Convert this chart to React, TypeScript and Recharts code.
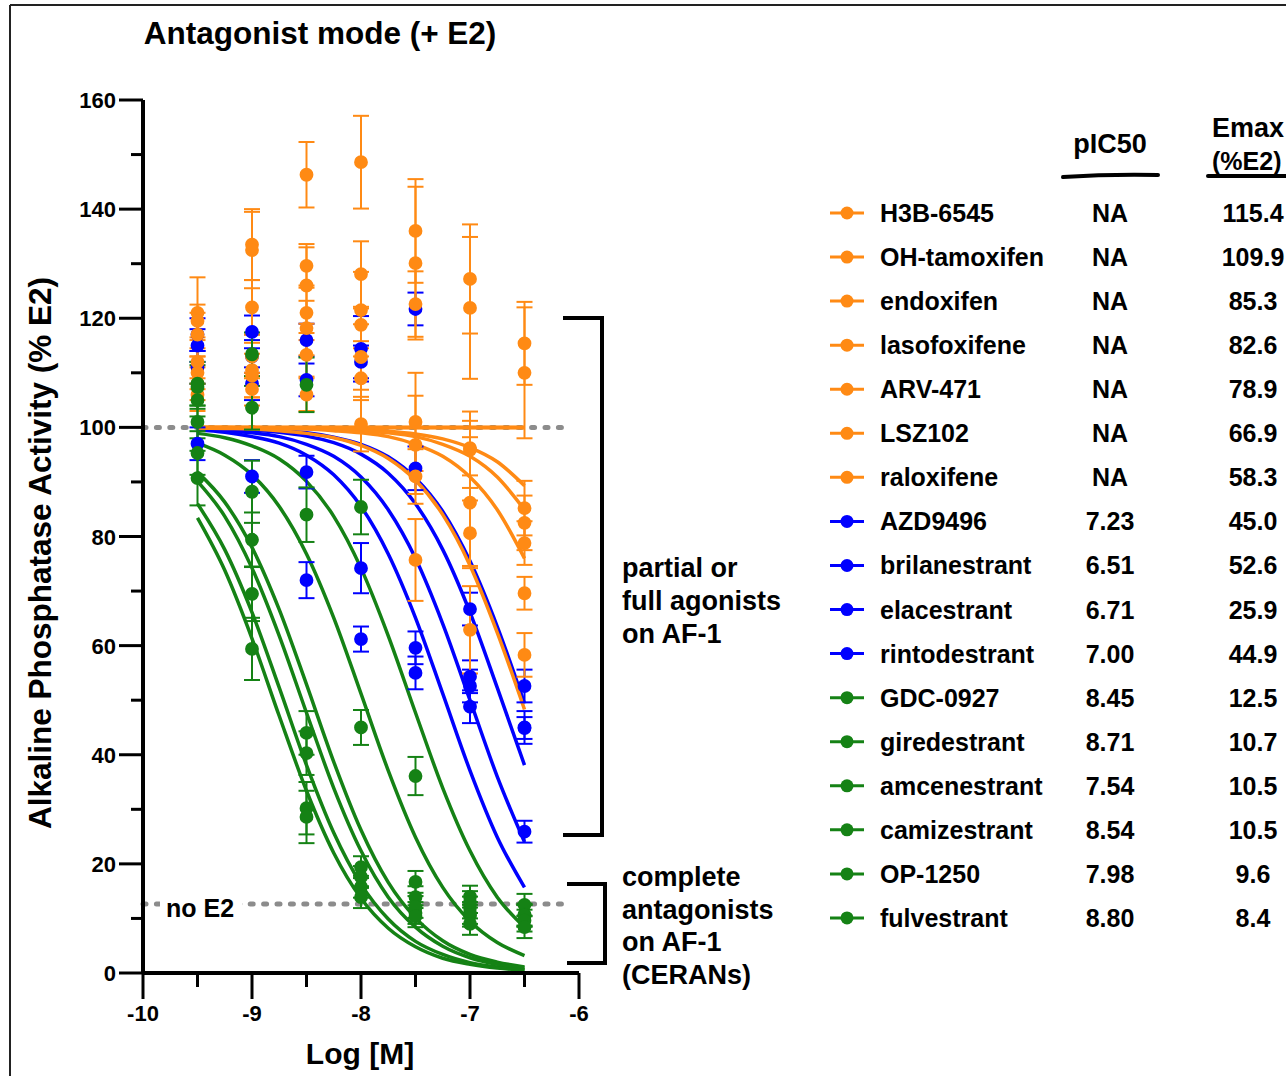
import React from 'react';
import { ComposedChart, Line, Scatter, ErrorBar, XAxis, YAxis, ZAxis, ReferenceLine } from 'recharts';

const FONT = '"Liberation Sans", Arial, Helvetica, sans-serif';
const ORANGE = '#ff8a14';
const BLUE = '#0000ff';
const GREEN = '#158215';

// concentrations (log M) of the measured points and of the fitted curves
const doses = [-9.5, -9, -8.5, -8, -7.5, -7, -6.5];
const fitX = [-9.5, -9.25, -9, -8.75, -8.5, -8.25, -8, -7.75, -7.5, -7.25, -7, -6.75, -6.5];
const xTicks = [-10, -9.5, -9, -8.5, -8, -7.5, -7, -6.5, -6];
const yTicks = [0, 10, 20, 30, 40, 50, 60, 70, 80, 90, 100, 110, 120, 130, 140, 150, 160];

const names = [
  'H3B-6545', 'OH-tamoxifen', 'endoxifen', 'lasofoxifene', 'ARV-471', 'LSZ102', 'raloxifene',
  'AZD9496', 'brilanestrant', 'elacestrant', 'rintodestrant',
  'GDC-0927', 'giredestrant', 'amcenestrant', 'camizestrant', 'OP-1250', 'fulvestrant',
];
const pic50 = ['NA', 'NA', 'NA', 'NA', 'NA', 'NA', 'NA', '7.23', '6.51', '6.71', '7.00', '8.45', '8.71', '7.54', '8.54', '7.98', '8.80'];
const emax = ['115.4', '109.9', '85.3', '82.6', '78.9', '66.9', '58.3', '45.0', '52.6', '25.9', '44.9', '12.5', '10.7', '10.5', '10.5', '9.6', '8.4'];
const colors = [
  ORANGE, ORANGE, ORANGE, ORANGE, ORANGE, ORANGE, ORANGE,
  BLUE, BLUE, BLUE, BLUE,
  GREEN, GREEN, GREEN, GREEN, GREEN, GREEN,
];

// mean % E2 activity at each dose
const h3bMean = [121, 133.5, 146.3, 148.6, 136, 127.2, 115.4];
const ohtMean = [119.5, 132.5, 129.6, 128.1, 130.1, 121.9, 110];
const endoxMean = [117, 122, 126, 121.5, 122.6, 96.2, 85.2];
const lasoMean = [112, 110.5, 121, 118.8, 101, 95.9, 82.5];
const arvMean = [110, 109.5, 118.2, 112.9, 96.8, 86.2, 78.8];
const lszMean = [108, 113, 113.3, 109, 91, 80.6, 69.6];
const raloxMean = [106, 107, 106, 100.6, 75.7, 62.9, 58.3];
const azdMean = [97, 91, 72, 61.2, 55, 48.8, 45];
const brilMean = [115, 113, 116, 114.4, 121.7, 66.7, 52.6];
const elacMean = [117, 117.5, 108.7, 112, 92.5, 52.6, 25.9];
const rintoMean = [111, 108, 91.8, 74.2, 59.6, 54.3, 44.9];
const gdcMean = [105, 88.2, 44, 19.4, 13.9, 12, 12.5];
const giredMean = [95.3, 69.5, 30.2, 15.8, 11, 10.5, 10.7];
const amcenMean = [108, 113.4, 107.8, 85.4, 36.1, 14, 10.5];
const camiMean = [101, 79.4, 40.3, 17.6, 12.1, 11, 10.5];
const opMean = [107.4, 103.6, 84, 45, 16.7, 13, 9.6];
const fulvMean = [90.7, 59.4, 28.6, 13.9, 10.4, 9, 8.4];

// error (± SD)
const h3bErr = [6.5, 6.5, 6, 8.5, 9.5, 10, 7.6];
const ohtErr = [3, 7, 4, 6, 14, 13, 12];
const endoxErr = [4, 5, 7, 7, 6, 5, 5];
const lasoErr = [4, 5, 5, 3, 9, 7, 5];
const arvErr = [3, 4, 5, 6, 9, 12, 4];
const lszErr = [3, 4, 4, 4, 5, 6, 3];
const raloxErr = [3, 3, 3, 5, 7.5, 8, 4];
const azdErr = [3, 3, 3.3, 2.3, 3, 3, 3];
const brilErr = [3, 3, 3, 6, 3, 3, 3];
const elacErr = [3, 3, 3, 3, 4, 3, 2];
const rintoErr = [3, 3, 3, 4.6, 3, 3, 2];
const gdcErr = [3, 5.7, 4, 2, 2, 2, 2];
const giredErr = [4, 5, 4.8, 2, 2, 2, 2];
const amcenErr = [4, 4, 5, 5, 3.5, 2, 2];
const camiErr = [3, 5, 4, 2, 2, 2, 2];
const opErr = [4, 4, 5, 3.2, 2, 2, 2];
const fulvErr = [5, 5.7, 4.8, 2, 2, 2, 2];

// fitted curves read at fitX
const h3bFit = [100, 100, 100, 100, 100, 100, 100, 100, 100, 100, 100, 100, 100];
const ohtFit = [100, 100, 100, 100, 100, 100, 100, 100, 100, 100, 100, 100, 100];
const endoxFit = [100, 100, 100, 99.9, 99.9, 99.8, 99.6, 99.3, 98.8, 97.9, 96.3, 93.7, 89.3];
const lasoFit = [100, 100, 99.9, 99.9, 99.8, 99.7, 99.4, 99.0, 98.3, 96.9, 94.7, 90.9, 84.9];
const arvFit = [100, 99.9, 99.9, 99.8, 99.7, 99.4, 99.0, 98.3, 96.9, 94.7, 90.9, 84.9, 76.0];
const lszFit = [100, 100, 100, 100, 100, 100, 100, 100, 100, 100, 100, 100, 100];
const raloxFit = [99.9, 99.8, 99.7, 99.4, 98.9, 98.1, 96.7, 94.3, 90.3, 84.0, 74.7, 62.4, 48.3];
const azdFit = [99.5, 99.1, 98.3, 97.1, 94.9, 91.3, 85.5, 76.8, 65.1, 51.2, 37.1, 24.9, 15.7];
const brilFit = [99.9, 99.8, 99.7, 99.4, 99.0, 98.2, 96.9, 94.6, 90.7, 84.6, 75.5, 63.5, 49.4];
const elacFit = [99.8, 99.7, 99.5, 99.1, 98.4, 97.2, 95.1, 91.6, 86.0, 77.6, 66.1, 52.3, 38.1];
const rintoFit = [99.7, 99.4, 99.0, 98.3, 96.9, 94.7, 90.9, 84.9, 76.0, 64.0, 50.0, 36.0, 24.0];
const gdcFit = [91.8, 86.3, 78.0, 66.6, 52.9, 38.7, 26.2, 16.6, 10.1, 5.9, 3.4, 2.0, 1.1];
const giredFit = [86.0, 77.6, 66.1, 52.3, 38.1, 25.7, 16.3, 9.9, 5.8, 3.4, 1.9, 1.1, 0.6];
const amcenFit = [98.9, 98.1, 96.6, 94.2, 90.1, 83.7, 74.2, 61.8, 47.7, 33.9, 22.4, 13.9, 8.4];
const camiFit = [90.1, 83.7, 74.2, 61.8, 47.7, 33.9, 22.4, 13.9, 8.4, 4.9, 2.8, 1.6, 0.9];
const opFit = [97.1, 94.9, 91.3, 85.5, 76.8, 65.1, 51.2, 37.1, 24.9, 15.7, 9.5, 5.6, 3.2];
const fulvFit = [83.4, 73.8, 61.3, 47.1, 33.4, 22.0, 13.7, 8.2, 4.8, 2.7, 1.6, 0.9, 0.5];

const means = [h3bMean, ohtMean, endoxMean, lasoMean, arvMean, lszMean, raloxMean, azdMean, brilMean, elacMean, rintoMean, gdcMean, giredMean, amcenMean, camiMean, opMean, fulvMean];
const errs = [h3bErr, ohtErr, endoxErr, lasoErr, arvErr, lszErr, raloxErr, azdErr, brilErr, elacErr, rintoErr, gdcErr, giredErr, amcenErr, camiErr, opErr, fulvErr];
const fits = [h3bFit, ohtFit, endoxFit, lasoFit, arvFit, lszFit, raloxFit, azdFit, brilFit, elacFit, rintoFit, gdcFit, giredFit, amcenFit, camiFit, opFit, fulvFit];

const pointData = means.map((m, i) => doses.map((x, j) => ({ x, y: m[j], err: errs[i][j] })));
const curveData = fits.map((f) => fitX.map((x, j) => ({ x, y: f[j] })));

// draw blue first, then orange, then green on top
const drawOrder = [7, 8, 9, 10, 0, 1, 2, 3, 4, 5, 6, 11, 12, 13, 14, 15, 16];

function YTick({ x, y, payload }: any) {
  const major = payload.value % 20 === 0;
  return (
    <g>
      <line x1={x} x2={x - (major ? 24 : 12)} y1={y} y2={y} stroke="#000" strokeWidth={3} />
      {major && (
        <text x={x - 27} y={y + 8} textAnchor="end" fontSize={22} fontWeight={700} fontFamily={FONT} fill="#000">
          {payload.value}
        </text>
      )}
    </g>
  );
}

function XTick({ x, y, payload }: any) {
  const major = Number.isInteger(payload.value);
  return (
    <g>
      <line x1={x} x2={x} y1={y} y2={y + (major ? 26 : 14)} stroke="#000" strokeWidth={3} />
      {major && (
        <text x={x} y={y + 48} textAnchor="middle" fontSize={22} fontWeight={700} fontFamily={FONT} fill="#000">
          {payload.value}
        </text>
      )}
    </g>
  );
}

const rowY = (i: number) => 213 + i * 44.06;

function Overlay() {
  const t = { fontFamily: FONT, fontWeight: 700, fill: '#000' } as const;
  return (
    <svg width={1286} height={1076} style={{ position: 'absolute', left: 0, top: 0, pointerEvents: 'none' }}>
      <line x1={10} y1={5} x2={1286} y2={5} stroke="#222" strokeWidth={2} />
      <line x1={10} y1={5} x2={10} y2={1076} stroke="#222" strokeWidth={2} />
      <text x={320} y={44} textAnchor="middle" fontSize={31.5} {...t}>Antagonist mode (+ E2)</text>
      <text transform="translate(51,553) rotate(-90)" textAnchor="middle" fontSize={31.5} {...t}>
        Alkaline Phosphatase Activity (% E2)
      </text>
      <text x={360} y={1064} textAnchor="middle" fontSize={30} {...t}>Log [M]</text>

      <rect x={160} y={893} width={82} height={26} fill="#fff" />
      <text x={166} y={917} fontSize={25} {...t}>no E2</text>

      <path d="M563,318 H602 V835 H563" fill="none" stroke="#000" strokeWidth={4} />
      <path d="M567,884 H605 V963 H567" fill="none" stroke="#000" strokeWidth={4} />
      {['partial or', 'full agonists', 'on AF-1'].map((s, i) => (
        <text key={s} x={622} y={577 + i * 33} fontSize={27} {...t}>{s}</text>
      ))}
      {['complete', 'antagonists', 'on AF-1', '(CERANs)'].map((s, i) => (
        <text key={s} x={622} y={886 + i * 32.7} fontSize={27} {...t}>{s}</text>
      ))}

      <text x={1110} y={153} textAnchor="middle" fontSize={27} {...t}>pIC50</text>
      <path d="M1063,177 Q1110,174 1158,175" fill="none" stroke="#000" strokeWidth={4} strokeLinecap="round" />
      <text x={1212} y={137} fontSize={27} {...t}>Emax</text>
      <text x={1212} y={170} fontSize={25} {...t}>(%E2)</text>
      <line x1={1208} y1={176} x2={1290} y2={176} stroke="#000" strokeWidth={4} strokeLinecap="round" />

      {names.map((n, i) => (
        <g key={n}>
          <line x1={830} x2={864} y1={rowY(i)} y2={rowY(i)} stroke={colors[i]} strokeWidth={3} />
          <circle cx={847} cy={rowY(i)} r={6.5} fill={colors[i]} />
          <text x={880} y={rowY(i) + 9} fontSize={25} {...t}>{n}</text>
          <text x={1110} y={rowY(i) + 9} textAnchor="middle" fontSize={25} {...t}>{pic50[i]}</text>
          <text x={1253} y={rowY(i) + 9} textAnchor="middle" fontSize={25} {...t}>{emax[i]}</text>
        </g>
      ))}
    </svg>
  );
}

export default function App() {
  return (
    <div style={{ position: 'absolute', left: 0, top: 0, width: 1286, height: 1076, background: '#fff' }}>
      <ComposedChart width={1286} height={1076} margin={{ top: 100, right: 707, bottom: 43, left: 83 }}>
        <XAxis
          dataKey="x"
          type="number"
          domain={[-10, -6]}
          ticks={xTicks}
          interval={0}
          height={60}
          tickSize={0}
          tickMargin={0}
          tick={<XTick />}
          axisLine={{ stroke: '#000', strokeWidth: 4 }}
          allowDataOverflow
        />
        <YAxis
          dataKey="y"
          type="number"
          domain={[0, 160]}
          ticks={yTicks}
          interval={0}
          width={60}
          tickSize={0}
          tickMargin={0}
          tick={<YTick />}
          axisLine={{ stroke: '#000', strokeWidth: 4 }}
          allowDataOverflow
        />
        <ZAxis type="number" range={[150, 150]} />
        <ReferenceLine
          segment={[{ x: -10, y: 100 }, { x: -6.1, y: 100 }]}
          stroke="#8c8c8c"
          strokeWidth={5}
          strokeDasharray="3 10.4"
          strokeLinecap="round"
        />
        <ReferenceLine
          segment={[{ x: -10, y: 12.65 }, { x: -6.1, y: 12.65 }]}
          stroke="#8c8c8c"
          strokeWidth={5}
          strokeDasharray="3 10.4"
          strokeLinecap="round"
        />
        {drawOrder.map((i) => (
          <Line
            key={`fit-${names[i]}`}
            data={curveData[i]}
            dataKey="y"
            type="monotone"
            stroke={colors[i]}
            strokeWidth={3.5}
            dot={false}
            activeDot={false}
            isAnimationActive={false}
          />
        ))}
        {drawOrder.map((i) => (
          <Scatter
            key={`pts-${names[i]}`}
            data={pointData[i]}
            dataKey="y"
            fill={colors[i]}
            shape="circle"
            isAnimationActive={false}
          >
            <ErrorBar dataKey="err" direction="y" width={8} stroke={colors[i]} strokeWidth={2} />
          </Scatter>
        ))}
      </ComposedChart>
      <Overlay />
    </div>
  );
}
